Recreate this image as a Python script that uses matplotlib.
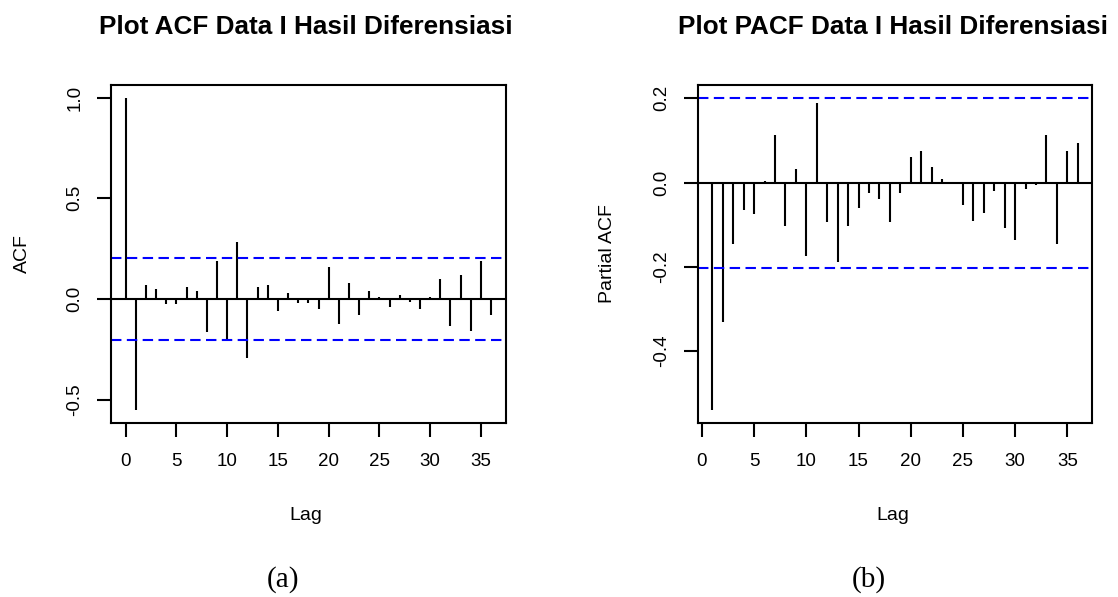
import numpy as np
import matplotlib
matplotlib.use("Agg")
import matplotlib.pyplot as plt

plt.rcParams['font.family'] = ['Liberation Sans', 'DejaVu Sans']

# ---- data ----
acf_lags = list(range(0, 37))
acf_values = [1.0, -0.55, 0.069, 0.049, -0.026, -0.026, 0.059, 0.039, -0.164, 0.188,
              -0.197, 0.286, -0.293, 0.059, 0.069, -0.056, 0.030, -0.018, -0.018, -0.046,
              0.158, -0.125, 0.079, -0.076, 0.039, 0.010, -0.036, 0.020, -0.016, -0.046,
              0.010, 0.099, -0.135, 0.118, -0.155, 0.188, -0.076]
pacf_lags = list(range(1, 37))
pacf_values = [-0.54, -0.331, -0.146, -0.066, -0.075, 0.003, 0.112, -0.104, 0.032, -0.175,
               0.188, -0.094, -0.189, -0.104, -0.061, -0.024, -0.038, -0.094, -0.024, 0.061,
               0.075, 0.037, 0.009, -0.002, -0.052, -0.090, -0.071, -0.019, -0.108, -0.137,
               -0.014, -0.005, 0.112, -0.146, 0.075, 0.094]
ci = 0.202
xticks = [0, 5, 10, 15, 20, 25, 30, 35]
acf_yticks = [-0.5, 0.0, 0.5, 1.0]
acf_yticklabels = ["-0.5", "0.0", "0.5", "1.0"]
pacf_yticks = [-0.4, -0.2, 0.0, 0.2]
pacf_yticklabels = ["-0.4", "-0.2", "0.0", "0.2"]
titles = ["Plot ACF Data I Hasil Diferensiasi", "Plot PACF Data I Hasil Diferensiasi"]
ylabels = ["ACF", "Partial ACF"]
captions = ["(a)", "(b)"]

W, H = 1118, 597
fig = plt.figure(figsize=(W / 100, H / 100), dpi=100)


def fx(px):
    return px / W


def fy(py):
    return 1 - py / H


def rlim(vals):
    lo, hi = min(vals), max(vals)
    r = hi - lo
    return lo - 0.04 * r, hi + 0.04 * r


def panel(left_px, lags, vals, yticks, yticklabels, title, ylabel, caption,
          title_x, ylabel_x, lag_x, cap_x):
    ax = fig.add_axes([fx(left_px), fy(422.7), fx(394.7), (422.7 - 85) / H])
    ax.vlines(lags, 0, vals, color='black', lw=1.5)
    ax.axhline(0, color='black', lw=1.5)
    for c in (ci, -ci):
        ax.axhline(c, color='#0000ff', lw=1.5, linestyle=(0, (5, 2.6)))
    ax.set_xlim(*rlim(lags))
    ax.set_ylim(*rlim(list(vals) + [ci, -ci]))
    ax.set_xticks(xticks)
    ax.set_xticklabels([str(t) for t in xticks], fontsize=13.5)
    ax.set_yticks(yticks)
    ax.set_yticklabels(yticklabels, fontsize=13.5, rotation=90, va='center')
    ax.tick_params(axis='x', direction='out', length=10, width=1.5, pad=12, color='black')
    ax.tick_params(axis='y', direction='out', length=10, width=1.5, pad=10, color='black')
    for s in ax.spines.values():
        s.set_linewidth(1.5)
        s.set_color('black')
    fig.text(fx(title_x), fy(33.5), title, ha='center', va='baseline',
             fontsize=18.8, fontweight='bold')
    fig.text(fx(ylabel_x), fy(254), ylabel, ha='center', va='center',
             rotation=90, fontsize=14)
    fig.text(fx(lag_x), fy(515), "Lag", ha='center', va='center', fontsize=14)
    fig.text(fx(cap_x), fy(580), caption, ha='center', va='center', fontsize=21,
             family=['Liberation Serif', 'DejaVu Serif'])
    return ax


panel(111, acf_lags, acf_values, acf_yticks, acf_yticklabels, titles[0], ylabels[0],
      captions[0], 305.5, 22, 306, 283)
panel(697.7, pacf_lags, pacf_values, pacf_yticks, pacf_yticklabels, titles[1], ylabels[1],
      captions[1], 893, 608, 893, 869)

fig.savefig("out.png", dpi=100)
